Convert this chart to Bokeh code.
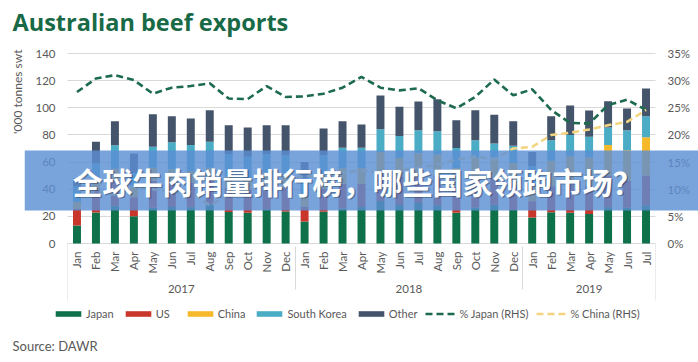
from math import pi
from bokeh.plotting import figure
from bokeh.models import (FactorRange, Range1d, LinearAxis, FixedTicker, PrintfTickFormatter,
                          Legend, LegendItem, Label, BoxAnnotation, ColumnDataSource, Title)
from bokeh.embed import file_html
from bokeh.resources import INLINE

# ---------------- data ----------------
months = ["Jan", "Feb", "Mar", "Apr", "May", "Jun", "Jul", "Aug", "Sep", "Oct", "Nov", "Dec"]
month_labels = months + months + months[:7]
years = ["2017"] * 12 + ["2018"] * 12 + ["2019"] * 7

# '000 tonnes swt
japan = [13.3, 22.8, 27.9, 20.0, 26.3, 26.9, 26.7, 29.0, 23.3, 22.7, 25.3, 23.5,
         16.3, 23.4, 25.8, 26.9, 31.3, 28.4, 29.9, 28.1, 22.6, 26.5, 28.6, 24.6,
         19.2, 23.1, 22.6, 21.7, 26.7, 26.4, 28.1]
us = [12.5, 17.0, 19.0, 14.0, 20.0, 19.0, 18.0, 20.0, 18.0, 17.0, 18.0, 18.0,
      11.0, 17.0, 18.0, 17.0, 22.0, 21.0, 22.0, 22.0, 19.0, 21.0, 20.0, 19.0,
      12.0, 19.0, 21.0, 21.0, 23.0, 20.0, 22.0]
china = [4.8, 7.1, 8.1, 7.0, 9.5, 8.9, 8.7, 6.9, 7.8, 8.6, 9.2, 10.0,
         7.5, 10.2, 11.7, 11.8, 14.2, 13.6, 14.6, 15.4, 14.1, 15.7, 14.7, 15.8,
         12.0, 18.8, 20.7, 20.6, 22.9, 22.3, 28.1]
south_korea = [11.4, 12.1, 17.4, 11.0, 15.4, 19.8, 19.2, 19.0, 16.9, 15.7, 13.5, 13.5,
               13.2, 14.4, 15.0, 14.8, 16.7, 16.3, 17.0, 17.3, 14.6, 12.9, 10.4, 12.6,
               13.8, 15.2, 15.7, 15.3, 12.9, 14.8, 15.6]
other = [6.0, 16.0, 17.7, 14.3, 24.1, 19.2, 19.5, 23.3, 21.2, 21.5, 21.2, 22.2,
         12.1, 19.7, 19.6, 17.2, 24.8, 21.4, 21.1, 23.5, 20.6, 22.1, 21.1, 18.1,
         10.5, 17.7, 21.7, 19.4, 19.4, 16.0, 20.4]

# % shares (RHS)
pct_japan = [27.9, 30.4, 31.0, 30.1, 27.6, 28.7, 29.0, 29.5, 26.7, 26.6, 29.0, 27.0,
             27.1, 27.6, 28.7, 30.7, 28.7, 28.2, 28.6, 26.4, 24.9, 27.0, 30.2, 27.3,
             28.4, 24.6, 22.2, 22.1, 25.5, 26.5, 24.6]
pct_china = [10.0, 9.5, 9.0, 10.5, 10.0, 9.5, 9.5, 7.0, 9.0, 10.0, 10.5, 11.5,
             12.5, 12.0, 13.0, 13.5, 13.0, 13.5, 14.0, 14.5, 15.5, 16.0, 15.5, 17.5,
             17.8, 20.0, 20.4, 21.0, 21.8, 22.4, 24.6]

left_ticks = [0, 20, 40, 60, 80, 100, 120, 140]
right_ticks = [0, 5, 10, 15, 20, 25, 30, 35]

series_names = ["Japan", "US", "China", "South Korea", "Other"]
series_cols = ["japan", "us", "china", "south_korea", "other"]
series_colors = ["#0e7149", "#c9372c", "#f6b92b", "#4bacc6", "#44546a"]

title_text = "Australian beef exports"
banner_text = "全球牛肉销量排行榜，哪些国家领跑市场？"
source_text = "Source: DAWR"
ylabel_text = "'000 tonnes swt"

# ---------------- layout geometry (window px) ----------------
N = 31
BAR_L, BAR_R = 67, 655          # extent of the category area
UNIT = (BAR_R - BAR_L) / N      # px per category
Y0, Y140 = 243, 53              # pixel rows of 0 and 140 on the left scale
PXU = (Y0 - Y140) / 140         # px per '000 t
FL, FR = 24, 698                # frame spans 24..698 (symmetric padding)
FT, FB = 45, 334                # frame top / bottom
PAD = (BAR_L - FL) / UNIT       # padding in categories, each side

factors = list(zip(years, month_labels))
src = ColumnDataSource(dict(x=factors, japan=japan, us=us, china=china,
                            south_korea=south_korea, other=other,
                            pct_japan=pct_japan, pct_china=pct_china))

y_lo = -(FB - Y0) / PXU
y_hi = 140 + (Y140 - FT) / PXU

p = figure(x_range=FactorRange(*factors, factor_padding=0, subgroup_padding=0,
                               group_padding=0, range_padding=2 * PAD / N,
                               range_padding_units="percent"),
           y_range=Range1d(y_lo, y_hi), frame_width=FR - FL, frame_height=FB - FT,
           min_border_left=FL, min_border_right=698 - FR, min_border_top=FT,
           min_border_bottom=362 - FB,
           output_backend="svg", toolbar_location=None, title=None)
p.outline_line_color = None
p.background_fill_color = "white"
p.border_fill_color = "white"
p.xgrid.visible = False
p.ygrid.visible = False

GRAY = "#595959"
FONT = "Lato"

# gridlines: ticks of the left axis, drawn beneath the bars
yg = p.yaxis[0]
yg.fixed_location = 0
yg.level = "underlay"
yg.ticker = FixedTicker(ticks=left_ticks)
yg.axis_line_color = None
yg.major_tick_line_color = "#d9d9d9"
yg.major_tick_line_width = 1
yg.major_tick_in = int(BAR_R - BAR_L)
yg.major_tick_out = 0
yg.minor_tick_line_color = None
yg.major_label_text_color = None

# left axis labels
ya = LinearAxis(fixed_location=0, ticker=FixedTicker(ticks=left_ticks))
ya.axis_line_color = None
ya.major_tick_line_color = None
ya.minor_tick_line_color = None
ya.major_tick_out = 0
ya.major_tick_in = 0
ya.major_label_standoff = 12
ya.major_label_text_color = GRAY
ya.major_label_text_font = FONT
ya.major_label_text_font_size = "11.5px"
p.add_layout(ya, "left")

# bottom (category) axis at value 0
xa = p.xaxis[0]
xa.fixed_location = 0
xa.major_label_orientation = pi / 2
xa.major_label_text_color = GRAY
xa.major_label_text_font = FONT
xa.major_label_text_font_size = "11.5px"
xa.major_label_standoff = 8
xa.major_tick_out = 0
xa.major_tick_in = 0
xa.group_text_color = GRAY
xa.group_text_font = FONT
xa.group_text_font_size = "11.5px"
xa.group_text_font_style = "normal"
xa.axis_line_color = None
xa.major_tick_line_color = None
xa.minor_tick_line_color = None
xa.separator_line_color = "#d9d9d9"
xa.separator_line_width = 1

# right axis at the end of the category area
p.extra_y_ranges = {"pct": Range1d(y_lo / 4, y_hi / 4)}
ra = LinearAxis(y_range_name="pct", ticker=FixedTicker(ticks=right_ticks),
                formatter=PrintfTickFormatter(format="%d%%"), fixed_location=N)
ra.axis_line_color = None
ra.major_tick_line_color = None
ra.minor_tick_line_color = None
ra.major_tick_out = 0
ra.major_tick_in = 0
ra.major_label_standoff = 12
ra.major_label_text_color = GRAY
ra.major_label_text_font = FONT
ra.major_label_text_font_size = "11.5px"
p.add_layout(ra, "right")

# bars
bars = p.vbar_stack(series_cols, x="x", width=0.42, source=src,
                    fill_color=series_colors, line_color=None)

# lines
lj = p.line(x="x", y="pct_japan", source=src, y_range_name="pct",
            line_color="#1d6b4e", line_width=2.6, line_dash="7 4")
lc = p.line(x="x", y="pct_china", source=src, y_range_name="pct",
            line_color="#f3d480", line_width=2.6, line_dash="7 4")

# helpers: window px -> data coordinates
def fx(px):
    return (px - BAR_L) / UNIT

def fy(py):
    return (Y0 - py) / PXU

# edge lines of the category axis
for bx in [0, N]:
    p.add_layout(BoxAnnotation(left=bx, right=bx, bottom=fy(300), top=0,
                               fill_alpha=0, line_color="#d9d9d9", line_width=1))

# titles in the side panels
p.add_layout(Title(text=title_text, align="left", offset=12 - FL, standoff=11,
                   vertical_align="top",
                   text_font="Open Sans", text_font_style="bold", text_font_size="23.5px",
                   text_color="#186a47"), "above")
p.add_layout(Title(text=ylabel_text, align="right", offset=4, standoff=0,
                   text_font=FONT, text_font_style="normal", text_font_size="12px",
                   text_color=GRAY), "left")
p.add_layout(Title(text=source_text, align="left", offset=12 - FL, standoff=6,
                   vertical_align="top",
                   text_font=FONT, text_font_style="normal", text_font_size="13px",
                   text_color=GRAY), "below")

# legend, inside the frame below the axis labels
items = [LegendItem(label=n, renderers=[r]) for n, r in zip(series_names, bars)]
items += [LegendItem(label="% Japan (RHS)", renderers=[lj]),
          LegendItem(label="% China (RHS)", renderers=[lc])]
legend = Legend(items=items, orientation="horizontal", location=(52 - FL, FB - 320),
                label_text_font=FONT, label_text_font_size="11px", label_text_color=GRAY,
                glyph_width=32, glyph_height=7, label_standoff=2, spacing=8,
                padding=0, margin=0, border_line_color=None, background_fill_alpha=0,
                label_height=14)
p.add_layout(legend)

# banner overlay
p.add_layout(BoxAnnotation(bottom=fy(210), top=fy(150),
                           fill_color="#5b8fd3", fill_alpha=0.82, line_color=None))
p.add_layout(Label(x=fx(73.5), y=fy(181.5), text=banner_text, text_font="Noto Sans CJK SC",
                   text_font_style="bold", text_font_size="30px", text_color="black",
                   text_alpha=0.3, text_baseline="middle"))
p.add_layout(Label(x=fx(72), y=fy(180), text=banner_text, text_font="Noto Sans CJK SC",
                   text_font_style="bold", text_font_size="30px", text_color="white",
                   text_baseline="middle"))

open("out.html", "w").write(file_html(p, INLINE))
